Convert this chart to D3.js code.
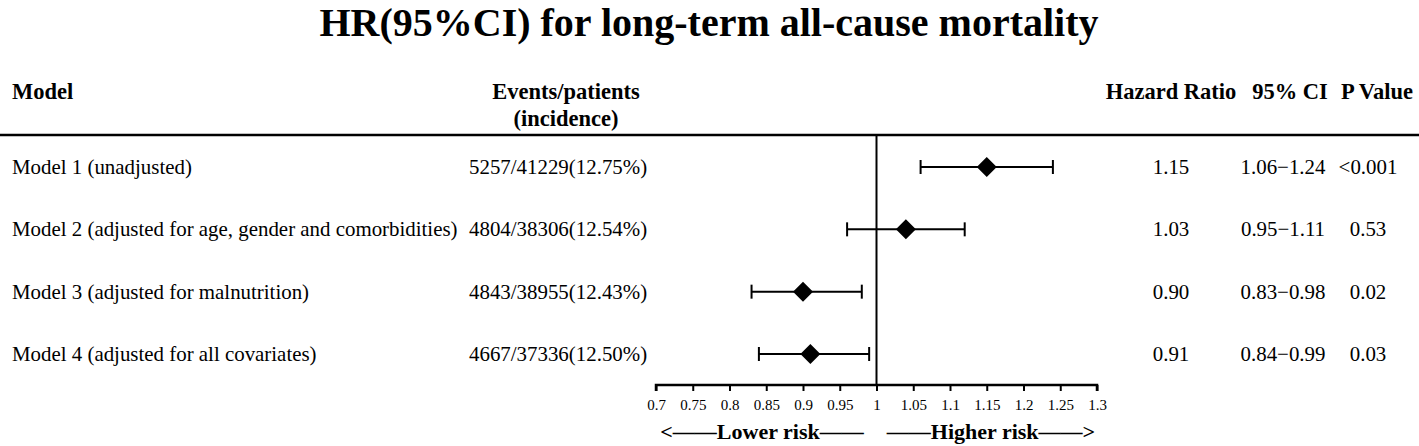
<!DOCTYPE html>
<html><head><meta charset="utf-8">
<script src="https://cdn.jsdelivr.net/npm/d3@7"></script>
<style>
html,body{margin:0;padding:0;background:#fff;}
</style></head>
<body><svg id="c" width="1419" height="446" font-family="'Liberation Serif', 'Times New Roman', Times, 'DejaVu Serif', serif"></svg>
<script>
const models = ["Model 1 (unadjusted)","Model 2 (adjusted for age, gender and comorbidities)","Model 3 (adjusted for malnutrition)","Model 4 (adjusted for all covariates)"];
const events = ["5257/41229(12.75%)","4804/38306(12.54%)","4843/38955(12.43%)","4667/37336(12.50%)"];
const hrPlot = [1.15,1.04,0.90,0.91];
const loPlot = [1.06,0.96,0.83,0.84];
const hiPlot = [1.24,1.12,0.98,0.99];
const hrText = ["1.15","1.03","0.90","0.91"];
const ciText = ["1.06\u22121.24","0.95\u22121.11","0.83\u22120.98","0.84\u22120.99"];
const pText = ["<0.001","0.53","0.02","0.03"];
const tickValues = [0.7,0.75,0.8,0.85,0.9,0.95,1,1.05,1.1,1.15,1.2,1.25,1.3];
const tickLabels = ["0.7","0.75","0.8","0.85","0.9","0.95","1","1.05","1.1","1.15","1.2","1.25","1.3"];

const FONT = "'Liberation Serif', 'Times New Roman', Times, 'DejaVu Serif', serif";
const svg = d3.select("#c");
const x = d3.scaleLinear().domain([0.7,1.3]).range([656,1097]);
const y = d3.scalePoint().domain(d3.range(models.length)).range([167,354]);
const axisY = 385, headerLineY = 135;

function txt(sel, xx, yy, s, size, bold, anchor){
  return sel.append("text").attr("x",xx).attr("y",yy).attr("font-family",FONT)
    .attr("font-size",size).attr("font-weight",bold?"bold":"normal")
    .attr("text-anchor",anchor||"start").attr("fill","#000").text(s);
}

txt(svg,709,36,"HR(95%CI) for long-term all-cause mortality",40,true,"middle");

// headers
const HS = 22.5;
txt(svg,12,99,"Model",HS,true);
txt(svg,566,99,"Events/patients",HS,true,"middle");
txt(svg,566,126,"(incidence)",HS,true,"middle");
txt(svg,1171,99,"Hazard Ratio",HS,true,"middle");
txt(svg,1290,99,"95% CI",HS,true,"middle");
txt(svg,1377,99,"P Value",HS,true,"middle");

svg.append("line").attr("x1",0).attr("x2",1419).attr("y1",headerLineY).attr("y2",headerLineY)
  .attr("stroke","#000").attr("stroke-width",2.5);

// row texts
const RS = 20.9;
models.forEach((m,i)=>{
  const yy = y(i)+7;
  txt(svg,12,yy,m,RS);
  txt(svg,469,yy,events[i],RS);
  txt(svg,1171,yy,hrText[i],RS,false,"middle");
  txt(svg,1283,yy,ciText[i],RS,false,"middle");
  txt(svg,1368,yy,pText[i],RS,false,"middle");
});

// reference line
svg.append("line").attr("x1",x(1)).attr("x2",x(1)).attr("y1",headerLineY).attr("y2",axisY)
  .attr("stroke","#000").attr("stroke-width",2);

// CI lines
const g = svg.append("g");
models.forEach((m,i)=>{
  const yy = y(i);
  g.append("line").attr("x1",x(loPlot[i])).attr("x2",x(hiPlot[i])).attr("y1",yy).attr("y2",yy).attr("stroke","#000").attr("stroke-width",2);
  [loPlot[i],hiPlot[i]].forEach(v=>{
    g.append("line").attr("x1",x(v)).attr("x2",x(v)).attr("y1",yy-7).attr("y2",yy+7).attr("stroke","#000").attr("stroke-width",2);
  });
  const cx = x(hrPlot[i]), s = 10;
  g.append("path").attr("d",`M${cx},${yy-s}L${cx+s},${yy}L${cx},${yy+s}L${cx-s},${yy}Z`).attr("fill","#000");
});

// axis
const ax = svg.append("g").attr("transform",`translate(0,${axisY})`)
  .call(d3.axisBottom(x).tickValues(tickValues).tickFormat((d,i)=>tickLabels[i]).tickSize(6).tickPadding(8));
ax.attr("font-family",FONT).attr("font-size",15);
ax.select(".domain").attr("stroke-width",2.5).attr("d",`M${x(0.7)},6V0H${x(1.3)}V6`);
ax.selectAll(".tick line").attr("stroke-width",2);
ax.selectAll(".tick text").attr("font-size",15).attr("font-family",FONT).attr("fill","#000");

txt(svg,762,439,"<\u2014\u2014Lower risk\u2014\u2014",22,true,"middle");
txt(svg,991,439,"\u2014\u2014Higher risk\u2014\u2014>",22,true,"middle");
</script></body></html>
